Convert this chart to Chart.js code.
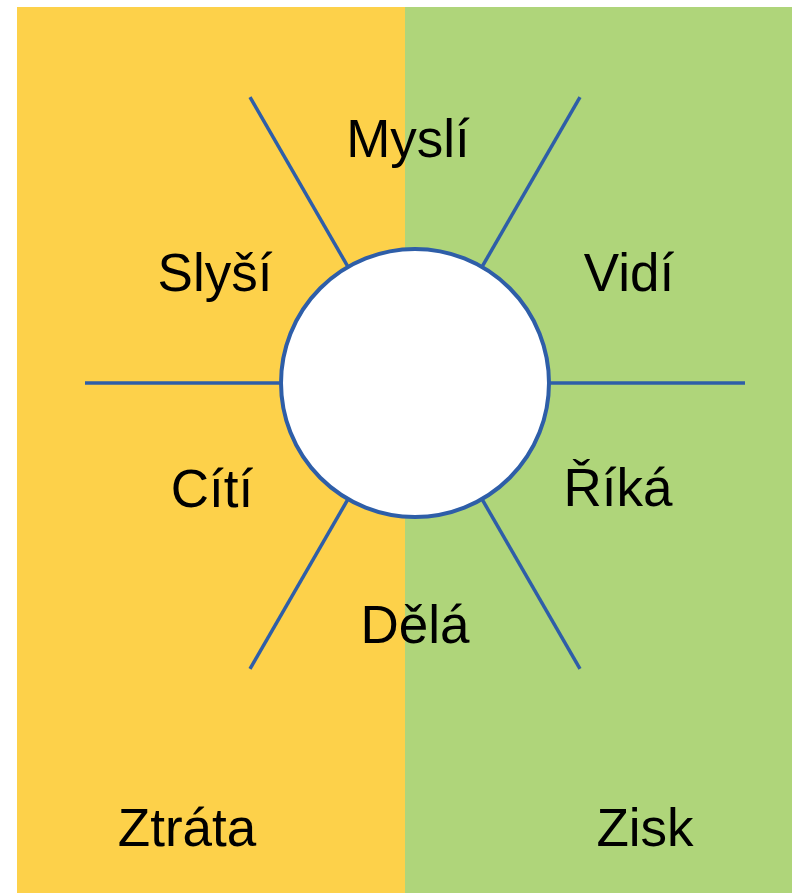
<!DOCTYPE html>
<html>
<head>
<meta charset="utf-8">
<script src="https://cdn.jsdelivr.net/npm/chart.js@4/dist/chart.umd.min.js"></script>
<style>
  html, body { margin: 0; padding: 0; background: #fff; }
  #wrap { width: 792px; height: 893px; }
</style>
</head>
<body>
<div id="wrap"><canvas id="map"></canvas></div>
<script>
// the six fields around the hub, clockwise from the top
const fieldLabels = ["Myslí", "Vidí", "Říká", "Dělá", "Cítí", "Slyší"];
// the two halves of the board
const sideLabels = ["Ztráta", "Zisk"];
// spoke directions in degrees (0 = right, counter-clockwise)
const spokeAngles = [0, 60, 120, 180, 240, 300];

// layout, in board units (1 unit = 1 px here)
const hub = { x: 415, y: 383, r: 134 };
const spokeOuter = 330;
const panels = [
  { from: 17, to: 405, top: 7, color: "#FDD14A" },
  { from: 405, to: 792, top: 7, color: "#AFD57A" },
];
const fieldPos = [[408, 157], [629, 291], [618, 506], [415, 643], [212, 507], [215, 291]];
const sidePos = [[187, 846], [645, 846]];
const blue = "#2E5EA8";

const spokeSets = spokeAngles.map((deg) => {
  const a = (deg * Math.PI) / 180;
  return {
    type: "scatter",
    showLine: true,
    data: [
      { x: hub.x + hub.r * Math.cos(a), y: hub.y - hub.r * Math.sin(a) },
      { x: hub.x + spokeOuter * Math.cos(a), y: hub.y - spokeOuter * Math.sin(a) },
    ],
    borderColor: blue,
    borderWidth: 3.5,
    pointRadius: 0,
    order: 1,
  };
});

const panelSets = panels.map((p) => ({
  type: "scatter",
  showLine: true,
  data: [{ x: p.from, y: p.top }, { x: p.to, y: p.top }],
  borderWidth: 0,
  borderColor: p.color,
  backgroundColor: p.color,
  fill: { value: 893 },
  pointRadius: 0,
  order: 2,
}));

const hubSet = {
  type: "scatter",
  data: [{ x: hub.x, y: hub.y }],
  pointRadius: hub.r,
  pointHoverRadius: hub.r,
  pointStyle: "circle",
  backgroundColor: "#ffffff",
  borderColor: blue,
  borderWidth: 4,
  clip: false,
  order: 0,
};

const textPlugin = {
  id: "boardText",
  afterDatasetsDraw(chart) {
    const { ctx, scales } = chart;
    ctx.save();
    ctx.fillStyle = "#000";
    ctx.font = "53px 'Liberation Sans', Arial, sans-serif";
    ctx.textAlign = "center";
    ctx.textBaseline = "alphabetic";
    const put = (txt, [x, y]) =>
      ctx.fillText(txt, scales.x.getPixelForValue(x), scales.y.getPixelForValue(y));
    fieldLabels.forEach((t, i) => put(t, fieldPos[i]));
    sideLabels.forEach((t, i) => put(t, sidePos[i]));
    ctx.restore();
  },
};

new Chart(document.getElementById("map"), {
  type: "scatter",
  data: { datasets: [hubSet, ...spokeSets, ...panelSets] },
  options: {
    responsive: true,
    maintainAspectRatio: false,
    animation: false,
    events: [],
    layout: { padding: 0, autoPadding: false },
    scales: {
      x: { type: "linear", min: 0, max: 792, display: false },
      y: { type: "linear", min: 0, max: 893, reverse: true, display: false },
    },
    plugins: {
      legend: { display: false },
      tooltip: { enabled: false },
    },
  },
  plugins: [textPlugin],
});
</script>
</body>
</html>
